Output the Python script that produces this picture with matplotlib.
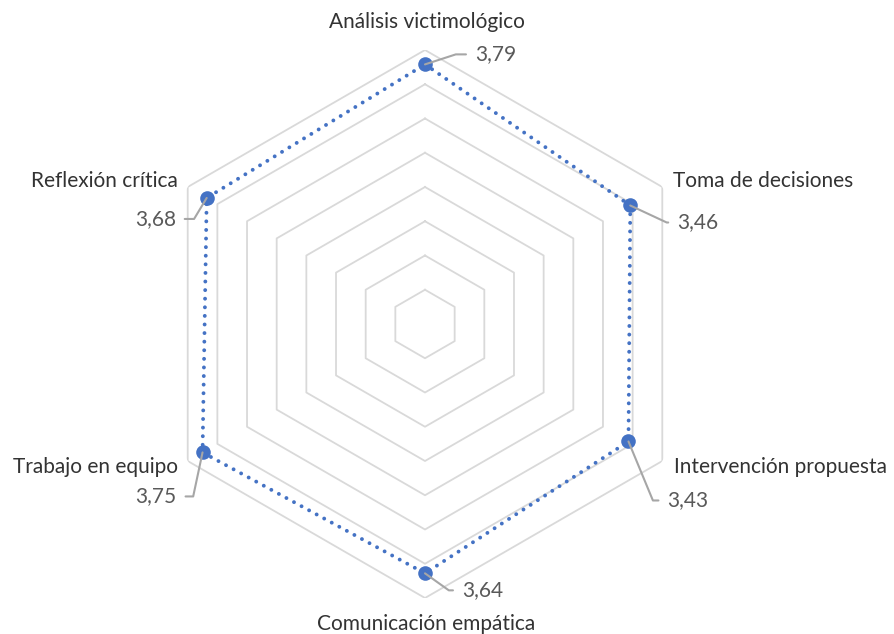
import numpy as np
import matplotlib
matplotlib.use("Agg")
import matplotlib.pyplot as plt

# Competency scores (0-4 scale), clockwise from the top
categories = ["Análisis victimológico", "Toma de decisiones", "Intervención propuesta",
              "Comunicación empática", "Trabajo en equipo", "Reflexión crítica"]
scores = [3.79, 3.46, 3.43, 3.64, 3.75, 3.68]
value_labels = ["3,79", "3,46", "3,43", "3,64", "3,75", "3,68"]
ring_levels = [0.5, 1.0, 1.5, 2.0, 2.5, 3.0, 3.5, 4.0]

BLUE = "#4472C4"
GRID = "#D9D9D9"
CAT_COLOR = "#333333"
VAL_COLOR = "#595959"
LEADER = "#A6A6A6"
FONT = "Lato"
FS = 15

W, H, DPI = 894, 634, 100
fig = plt.figure(figsize=(W / DPI, H / DPI), dpi=DPI)
cx, cy, R = 425, 310, 274  # centre (pixels from bottom-left) and outer radius
ax = fig.add_axes([(cx - R) / W, (cy - R) / H, 2 * R / W, 2 * R / H], projection="polar")
ax.set_theta_zero_location("N")
ax.set_theta_direction(-1)
ax.set_ylim(0, 4)
ax.set_xticks([])
ax.set_yticks([])
ax.grid(False)
ax.spines["polar"].set_visible(False)
ax.patch.set_alpha(0)

n = len(categories)
theta = np.arange(n) * 2 * np.pi / n
theta_closed = np.append(theta, theta[0])

# Hexagonal gridlines
for lvl in ring_levels:
    ax.plot(theta_closed, [lvl] * (n + 1), color=GRID, lw=1.3, zorder=1)

# Series: dotted line with round markers
vals_closed = scores + [scores[0]]
ax.plot(theta_closed, vals_closed, color=BLUE, lw=2.8,
        linestyle=(0, (0.01, 2.2)), dash_capstyle="round", zorder=3)
ax.plot(theta, scores, "o", color=BLUE, markersize=10.5, markeredgewidth=0, zorder=4)

# Category labels around the outer ring (offsets in pixels from each vertex)
cat_offsets = [(2, 28, "center"), (11, 6, "left"), (12, -6, "left"),
               (1, -26, "center"), (-10, -6, "right"), (-10, 6, "right")]
for t, name, (dx, dy, ha) in zip(theta, categories, cat_offsets):
    ax.annotate(name, xy=(t, 4), xytext=(dx, dy), textcoords="offset pixels",
                ha=ha, va="center", fontsize=FS, color=CAT_COLOR, family=FONT,
                annotation_clip=False)

# Value labels with leader lines: (dx, dy, align, angle of leader at the marker)
val_offsets = [(50, 10, "left", 18), (47, -17, "left", -25), (39, -59, "left", -67.5),
               (37, -17, "left", -35.5), (-26, -44, "right", 78), (-31, -21, "right", 59)]
for t, v, lab, (dx, dy, ha, ang) in zip(theta, scores, value_labels, val_offsets):
    rel = (0, 0.5) if ha == "left" else (1, 0.5)
    ax.annotate(lab, xy=(t, v), xytext=(dx, dy), textcoords="offset pixels",
                ha=ha, va="center", fontsize=FS, color=VAL_COLOR, family=FONT,
                annotation_clip=False, zorder=5,
                arrowprops=dict(arrowstyle="-", color=LEADER, lw=1.5,
                                shrinkA=4.5, shrinkB=0, relpos=rel,
                                connectionstyle=f"angle,angleA=0,angleB={ang},rad=0"))

fig.savefig("out.png", dpi=DPI)
